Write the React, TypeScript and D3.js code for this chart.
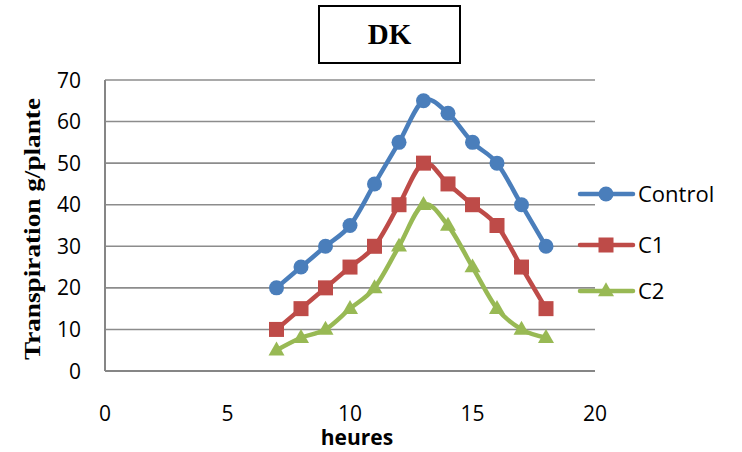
import React from "react";
import * as d3 from "d3";

const hours = [7, 8, 9, 10, 11, 12, 13, 14, 15, 16, 17, 18];
const control = [20, 25, 30, 35, 45, 55, 65, 62, 55, 50, 40, 30];
const c1 = [10, 15, 20, 25, 30, 40, 50, 45, 40, 35, 25, 15];
const c2 = [5, 8, 10, 15, 20, 30, 40, 35, 25, 15, 10, 8];
const seriesNames = ["Control", "C1", "C2"];
const colors = ["#4a7ebb", "#be4b48", "#98b954"];
const xTicks = [0, 5, 10, 15, 20];
const yTicks = [0, 10, 20, 30, 40, 50, 60, 70];

const W = 742, H = 452;
const x = d3.scaleLinear().domain([0, 20]).range([105, 595]);
const y = d3.scaleLinear().domain([0, 70]).range([371, 80]);

function Marker({ kind, cx, cy, color }: { kind: number; cx: number; cy: number; color: string }) {
  if (kind === 0) return <circle cx={cx} cy={cy} r={7.5} fill={color} />;
  if (kind === 1) return <rect x={cx - 7.5} y={cy - 7.5} width={15} height={15} fill={color} />;
  const s = 16;
  const h = s * 0.87;
  return (
    <path
      d={`M${cx},${cy - h * 0.62} L${cx + s / 2},${cy + h * 0.38} L${cx - s / 2},${cy + h * 0.38} Z`}
      fill={color}
    />
  );
}

export default function App() {
  const data = [control, c1, c2];
  const line = d3
    .line<number>()
    .x((_, i) => x(hours[i]))
    .y((d) => y(d))
    .curve(d3.curveCardinal.tension(0));
  const legendY = [194, 245, 291];
  return (
    <svg width={W} height={H} style={{ position: "absolute", left: 0, top: 0, background: "#fff" }}>
      <rect x={0} y={0} width={W} height={H} fill="#fff" />
      {/* title box */}
      <rect x={319} y={6} width={141} height={57} fill="#fff" stroke="#000" strokeWidth={2} />
      <text x={389.5} y={44} textAnchor="middle" fontFamily="Liberation Serif, Times New Roman, serif" fontWeight="bold" fontSize={29}>
        DK
      </text>
      {/* gridlines */}
      {yTicks.slice(1).map((t) => (
        <line key={t} x1={x(0)} x2={x(20)} y1={y(t)} y2={y(t)} stroke="#8c8c8c" strokeWidth={1.6} />
      ))}
      {/* axes */}
      <line x1={x(0)} x2={x(0)} y1={y(70)} y2={y(0)} stroke="#868686" strokeWidth={2} />
      <line x1={x(0)} x2={x(20)} y1={y(0)} y2={y(0)} stroke="#868686" strokeWidth={2} />
      {/* y tick labels */}
      {yTicks.map((t) => (
        <text key={t} x={81} y={y(t) + 7.5} textAnchor="end" fontFamily="Open Sans, sans-serif" fontSize={21} fill="#000">
          {t}
        </text>
      ))}
      {/* x tick labels */}
      {xTicks.map((t) => (
        <text key={t} x={x(t)} y={421} textAnchor="middle" fontFamily="Open Sans, sans-serif" fontSize={21} fill="#000">
          {t}
        </text>
      ))}
      <text x={357} y={445} textAnchor="middle" fontFamily="Open Sans, sans-serif" fontWeight="bold" fontSize={21}>
        heures
      </text>
      <text
        transform={`translate(40,229) rotate(-90)`}
        textAnchor="middle"
        fontFamily="Liberation Serif, Times New Roman, serif"
        fontWeight="bold"
        fontSize={23}
        textLength={262}
        lengthAdjust="spacingAndGlyphs"
      >
        Transpiration g/plante
      </text>
      {/* series */}
      {data.map((vals, k) => (
        <g key={k}>
          <path d={line(vals) || ""} fill="none" stroke={colors[k]} strokeWidth={4.5} strokeLinejoin="round" />
          {vals.map((v, i) => (
            <Marker key={i} kind={k} cx={x(hours[i])} cy={y(v)} color={colors[k]} />
          ))}
        </g>
      ))}
      {/* legend */}
      {seriesNames.map((n, k) => (
        <g key={n}>
          <line x1={580} x2={633} y1={legendY[k]} y2={legendY[k]} stroke={colors[k]} strokeWidth={4.5} strokeLinecap="round" />
          <Marker kind={k} cx={606} cy={legendY[k]} color={colors[k]} />
          <text x={638} y={legendY[k] + 8} fontFamily="Open Sans, sans-serif" fontSize={22} fill="#000">
            {n}
          </text>
        </g>
      ))}
    </svg>
  );
}
